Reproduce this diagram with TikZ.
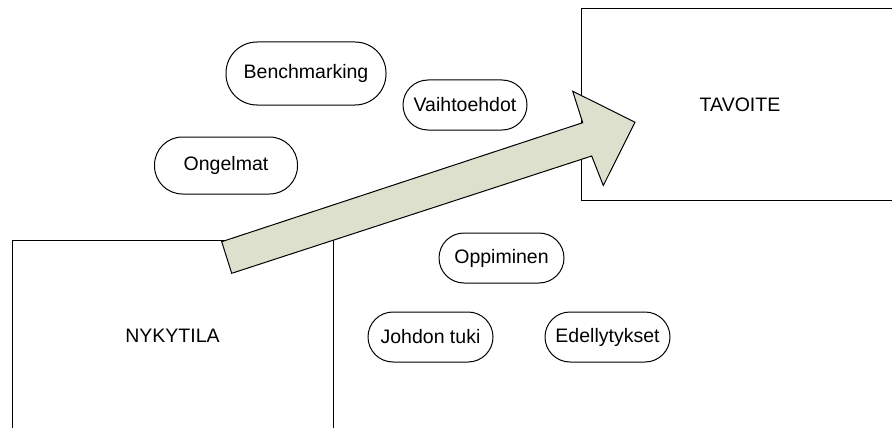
\documentclass[tikz,border=0pt]{standalone}
\usepackage{fontspec}
\setmainfont{Liberation Sans}
\begin{document}
\begin{tikzpicture}[x=1pt,y=-1pt,
  every node/.style={font=\fontsize{19.5}{23}\selectfont, inner sep=0pt},
  statebox/.style={draw=black, line width=1pt, fill=white},
  pill/.style={draw=black, line width=1pt, fill=white},
  bigarrow/.style={draw=black, line width=1pt, fill=arrowfill, line join=miter}]
\definecolor{arrowfill}{RGB}{221,224,204}
\useasboundingbox (0,0) rectangle (892,428);
\begin{scope}
\clip (0,0) rectangle (892,428);
\node[statebox, minimum width=321pt, minimum height=192pt] (nyk) at (172.5,336) {NYKYTILA};
\node[statebox, minimum width=318pt, minimum height=191pt] (tav) at (740,104.5) {TAVOITE};
\end{scope}
\node[pill, minimum width=160pt, minimum height=63pt, rounded corners=31pt] (bench) at (306,73.5) {Benchmarking};
\node[pill, minimum width=124pt, minimum height=50pt, rounded corners=25pt] (vaiht) at (465,105) {Vaihtoehdot};
\node[pill, minimum width=143pt, minimum height=57pt, rounded corners=28pt] (ongel) at (226,165.5) {Ongelmat};
\node[pill, minimum width=125pt, minimum height=50pt, rounded corners=25pt] (oppi) at (501.5,258) {Oppiminen};
\node[pill, minimum width=125pt, minimum height=50pt, rounded corners=25pt] (johto) at (430.5,337) {Johdon tuki};
\node[pill, minimum width=125pt, minimum height=50pt, rounded corners=25pt] (edell) at (607.5,337) {Edellytykset};
\draw[bigarrow] (221.7,241.7) -- (582.7,122.7) -- (572.7,91.2) -- (635,122.2)
  -- (603.3,185.5) -- (591.7,156) -- (231.7,273.3) -- cycle;
\end{tikzpicture}
\end{document}
